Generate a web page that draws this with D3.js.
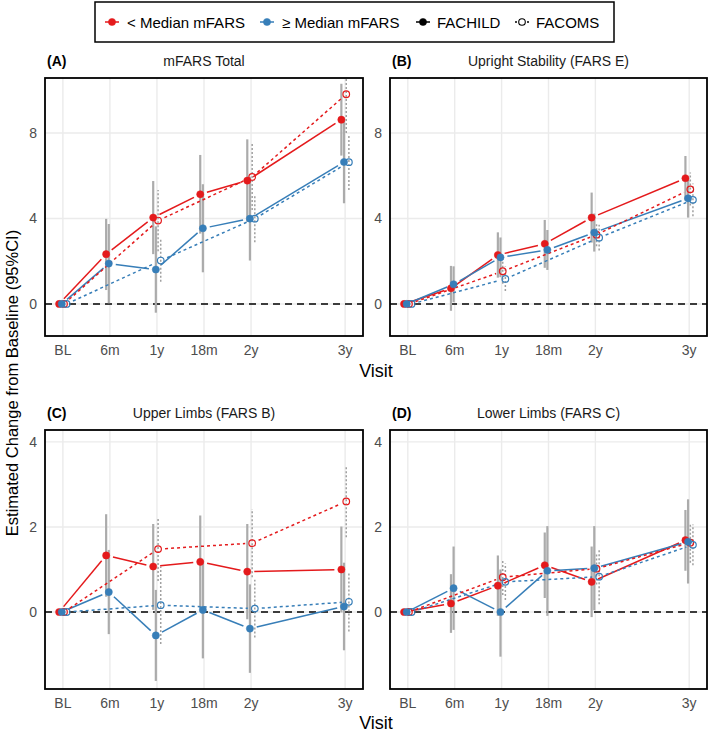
<!DOCTYPE html>
<html><head><meta charset="utf-8">
<script src="https://cdn.jsdelivr.net/npm/d3@7"></script>
<style>body{margin:0;background:#fff}svg{display:block;font-family:"Liberation Sans",Arial,sans-serif}</style>
</head><body>
<script>
// ---------- data ----------
const visits = ["BL","6m","1y","18m","2y","3y"];
const visitTimes = [0,0.5,1,1.5,2,3];
const facomsTimes = [0,1,2,3];
const groups = ["< Median mFARS","≥ Median mFARS"];
const studies = ["FACHILD","FACOMS"];
const panelTags = ["(A)","(B)","(C)","(D)"];
const panelTitles = ["mFARS Total","Upright Stability (FARS E)","Upper Limbs (FARS B)","Lower Limbs (FARS C)"];
const topTicks = [0,4,8];
const bottomTicks = [0,2,4];
// [estimate, lower, upper] per visit
const A_low_FACHILD  = [[0,0,0],[2.33,0.65,3.98],[4.04,2.33,5.75],[5.13,3.29,6.97],[5.77,3.84,7.70],[8.62,6.94,10.30]];
const A_high_FACHILD = [[0,0,0],[1.89,0.03,3.74],[1.61,-0.41,3.63],[3.54,1.48,5.60],[3.99,2.03,5.95],[6.64,4.71,8.57]];
const A_low_FACOMS   = [[0,0,0],[3.90,2.47,5.33],[5.94,4.39,7.49],[9.81,8.00,11.60]];
const A_high_FACOMS  = [[0,0,0],[2.03,1.04,3.02],[3.99,2.89,5.09],[6.63,5.33,7.93]];
const B_low_FACHILD  = [[0,0,0],[0.73,-0.32,1.78],[2.29,1.23,3.35],[2.81,1.69,3.93],[4.04,2.87,5.21],[5.88,4.84,6.92]];
const B_high_FACHILD = [[0,0,0],[0.92,0.08,1.76],[2.18,1.25,3.11],[2.53,1.59,3.46],[3.34,2.45,4.23],[4.94,4.04,5.84]];
const B_low_FACOMS   = [[0,0,0],[1.53,0.95,2.10],[3.24,2.70,3.78],[5.36,4.60,6.15]];
const B_high_FACOMS  = [[0,0,0],[1.17,0.60,1.75],[3.10,2.50,3.70],[4.87,4.10,5.64]];
const C_low_FACHILD  = [[0,0,0],[1.33,0.36,2.30],[1.07,0.05,2.07],[1.18,0.09,2.27],[0.95,-0.17,2.07],[1.00,-0.01,2.01]];
const C_high_FACHILD = [[0,0,0],[0.47,-0.52,1.46],[-0.55,-1.62,0.52],[0.05,-1.09,1.19],[-0.39,-1.43,0.65],[0.13,-0.90,1.16]];
const C_low_FACOMS   = [[0,0,0],[1.48,0.73,2.23],[1.62,0.82,2.42],[2.60,1.76,3.44]];
const C_high_FACOMS  = [[0,0,0],[0.16,-0.75,1.07],[0.08,-0.60,0.76],[0.24,-0.46,0.94]];
const D_low_FACHILD  = [[0,0,0],[0.20,-0.49,0.89],[0.62,-0.09,1.33],[1.10,0.33,1.87],[0.71,-0.12,1.54],[1.69,0.97,2.40]];
const D_high_FACHILD = [[0,0,0],[0.56,-0.42,1.54],[0.00,-1.05,1.00],[0.97,-0.09,2.02],[1.03,0.04,2.02],[1.65,0.67,2.65]];
const D_low_FACOMS   = [[0,0,0],[0.82,0.40,1.24],[1.02,0.65,1.39],[1.63,1.16,2.10]];
const D_high_FACOMS  = [[0,0,0],[0.71,0.28,1.14],[0.83,0.18,1.48],[1.58,1.10,2.06]];

const panelData = [
  [A_low_FACHILD, A_high_FACHILD, A_low_FACOMS, A_high_FACOMS],
  [B_low_FACHILD, B_high_FACHILD, B_low_FACOMS, B_high_FACOMS],
  [C_low_FACHILD, C_high_FACHILD, C_low_FACOMS, C_high_FACOMS],
  [D_low_FACHILD, D_high_FACHILD, D_low_FACOMS, D_high_FACOMS]
];

// ---------- layout ----------
const W = 709, H = 734;
const red = "#E41A1C", blue = "#377EB8";
const colors = [red, blue];
const layout = [
  {x0:45, x1:363, y0:78, y1:336, ydom:[-1.5,10.57], ticks:topTicks},
  {x0:390, x1:707, y0:78, y1:336, ydom:[-1.5,10.57], ticks:topTicks},
  {x0:45, x1:363, y0:430, y1:689, ydom:[-1.81,4.28], ticks:bottomTicks},
  {x0:390, x1:707, y0:430, y1:689, ydom:[-1.81,4.28], ticks:bottomTicks}
];
// series order: low FACHILD, high FACHILD, low FACOMS, high FACOMS
const dodge = [-0.04, -0.012, 0.012, 0.04];

const svg = d3.select("body").append("svg").attr("width", W).attr("height", H);

layout.forEach((L, pi) => {
  const x = d3.scaleLinear().domain([-0.19, 3.19]).range([L.x0, L.x1]);
  const y = d3.scaleLinear().domain(L.ydom).range([L.y1, L.y0]);
  const g = svg.append("g");
  const clipId = "clip" + pi;
  svg.append("clipPath").attr("id", clipId).append("rect")
    .attr("x", L.x0).attr("y", L.y0).attr("width", L.x1 - L.x0).attr("height", L.y1 - L.y0);
  const pg = g.append("g").attr("clip-path", `url(#${clipId})`);

  // grid
  pg.selectAll(".gx").data(visitTimes).join("line")
    .attr("x1", d => x(d)).attr("x2", d => x(d)).attr("y1", L.y0).attr("y2", L.y1)
    .attr("stroke", "#ebebeb").attr("stroke-width", 1.4);
  pg.selectAll(".gy").data(L.ticks).join("line")
    .attr("y1", d => y(d)).attr("y2", d => y(d)).attr("x1", L.x0).attr("x2", L.x1)
    .attr("stroke", "#ebebeb").attr("stroke-width", 1.4);

  // zero line
  pg.append("line").attr("x1", L.x0).attr("x2", L.x1).attr("y1", y(0)).attr("y2", y(0))
    .attr("stroke", "#000").attr("stroke-width", 1.5).attr("stroke-dasharray", "7,5");

  const series = panelData[pi].map((arr, si) => {
    const times = si < 2 ? visitTimes : facomsTimes;
    return arr.map((v, i) => ({t: times[i], est: v[0], lo: v[1], hi: v[2], si}));
  });

  // error bars
  series.forEach((pts, si) => {
    const isFachild = si < 2;
    pg.selectAll(null).data(pts.filter(p => p.t > 0)).join("line")
      .attr("x1", p => x(p.t + dodge[si])).attr("x2", p => x(p.t + dodge[si]))
      .attr("y1", p => y(p.lo)).attr("y2", p => y(p.hi))
      .attr("stroke", isFachild ? "#ababab" : "#a0a0a0")
      .attr("stroke-width", isFachild ? 2.2 : 1.5)
      .attr("stroke-dasharray", isFachild ? null : "2,2");
  });

  // connecting lines with gaps near points
  const gap = 7;
  series.forEach((pts, si) => {
    const isFachild = si < 2;
    const segs = [];
    for (let i = 0; i < pts.length - 1; i++) {
      const ax = x(pts[i].t + dodge[si]), ay = y(pts[i].est);
      const bx = x(pts[i+1].t + dodge[si]), by = y(pts[i+1].est);
      const len = Math.hypot(bx - ax, by - ay);
      if (len < 2 * gap + 2) continue;
      const ux = (bx - ax) / len, uy = (by - ay) / len;
      segs.push([ax + ux*gap, ay + uy*gap, bx - ux*gap, by - uy*gap]);
    }
    pg.selectAll(null).data(segs).join("line")
      .attr("x1", s => s[0]).attr("y1", s => s[1]).attr("x2", s => s[2]).attr("y2", s => s[3])
      .attr("stroke", colors[si % 2]).attr("stroke-width", 1.5)
      .attr("stroke-dasharray", isFachild ? null : "3,3");
  });

  // points
  [2, 3, 0, 1].forEach(si => {
    const pts = series[si];
    const isFachild = si < 2;
    pg.selectAll(null).data(pts).join("circle")
      .attr("cx", p => x(p.t + dodge[si])).attr("cy", p => y(p.est))
      .attr("r", isFachild ? 3.6 : 3.3)
      .attr("fill", isFachild ? colors[si % 2] : "none")
      .attr("stroke", colors[si % 2]).attr("stroke-width", isFachild ? 0.5 : 1.2);
  });

  // border
  g.append("rect").attr("x", L.x0).attr("y", L.y0).attr("width", L.x1 - L.x0).attr("height", L.y1 - L.y0)
    .attr("fill", "none").attr("stroke", "#000").attr("stroke-width", 1.8);

  // axes labels
  g.selectAll(null).data(visits).join("text")
    .attr("x", (d, i) => x(visitTimes[i])).attr("y", L.y1 + 19)
    .attr("text-anchor", "middle").attr("font-size", 14).attr("fill", "#4d4d4d").text(d => d);
  g.selectAll(null).data(L.ticks).join("text")
    .attr("x", L.x0 - 8).attr("y", d => y(d) + 5)
    .attr("text-anchor", "end").attr("font-size", 14).attr("fill", "#4d4d4d").text(d => d);

  // titles
  g.append("text").attr("x", L.x0 + 2).attr("y", L.y0 - 12).attr("font-size", 14)
    .attr("font-weight", "bold").attr("fill", "#000").text(panelTags[pi]);
  g.append("text").attr("x", (L.x0 + L.x1) / 2).attr("y", L.y0 - 12).attr("font-size", 14)
    .attr("text-anchor", "middle").attr("fill", "#1a1a1a").text(panelTitles[pi]);
});

// x axis titles
[377, 729].forEach(yy => {
  svg.append("text").attr("x", 376).attr("y", yy).attr("text-anchor", "middle")
    .attr("font-size", 18).attr("fill", "#000").text("Visit");
});
// y axis title
svg.append("text").attr("transform", "translate(18,383) rotate(-90)")
  .attr("text-anchor", "middle").attr("font-size", 16.5).attr("fill", "#000")
  .text("Estimated Change from Baseline (95%CI)");

// legend
const lg = svg.append("g");
lg.append("rect").attr("x", 95).attr("y", 2).attr("width", 519).attr("height", 40)
  .attr("fill", "#fff").attr("stroke", "#000").attr("stroke-width", 1.5);
const legendItems = [
  {label: groups[0], color: red, filled: true, kx: 112, tx: 127},
  {label: groups[1], color: blue, filled: true, kx: 267, tx: 282},
  {label: studies[0], color: "#000", filled: true, kx: 423, tx: 437},
  {label: studies[1], color: "#000", filled: false, kx: 522, tx: 536}
];
legendItems.forEach(it => {
  lg.append("line").attr("x1", it.kx - 7).attr("x2", it.kx + 7).attr("y1", 22).attr("y2", 22)
    .attr("stroke", it.color).attr("stroke-width", 1.5)
    .attr("stroke-dasharray", it.filled ? null : "2,2");
  lg.append("circle").attr("cx", it.kx).attr("cy", 22).attr("r", it.filled ? 3.6 : 3.3)
    .attr("fill", it.filled ? it.color : "#fff").attr("stroke", it.color).attr("stroke-width", it.filled ? 0.5 : 1.1);
  lg.append("text").attr("x", it.tx).attr("y", 27.5).attr("font-size", 15).attr("fill", "#000").text(it.label);
});
</script>
</body></html>
